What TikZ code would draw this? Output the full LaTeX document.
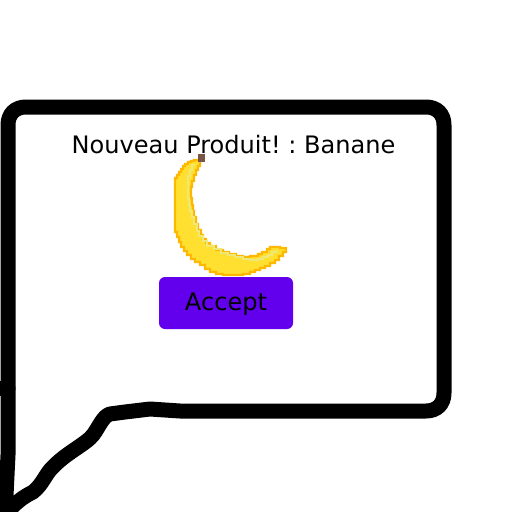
\documentclass[tikz,border=0pt]{standalone}
\usepackage{fontspec}
\setmainfont{DejaVu Sans}
\frenchspacing
\definecolor{btn}{HTML}{6200EE}
\definecolor{nanaedge}{HTML}{FFB800}
\definecolor{nanafill}{HTML}{FFE030}
\definecolor{nanapale}{HTML}{EEE878}
\definecolor{nanastem}{HTML}{795548}
\tikzset{
  inkline/.style={line width=15pt,line cap=round,line join=round,draw=black},
  acceptbtn/.style={fill=btn,rounded corners=6pt,minimum width=134pt,minimum height=52pt,inner sep=0pt,text=black},
  btnlabel/.style={font=\fontsize{24.1pt}{26pt}\selectfont,text=black,inner sep=0pt},
  titletext/.style={font=\fontsize{24.05pt}{26pt}\selectfont,text=black,inner sep=0pt}
}
\begin{document}
\begin{tikzpicture}[x=1pt,y=-1pt]
\useasboundingbox (0,0) rectangle (512,512);
\fill[white] (0,0) rectangle (512,512);
% bubble
\draw[inkline] (5,516) -- (8,455) -- (8,125) .. controls (8,114) and (15,107) .. (26,107) -- (426,107) .. controls (437,107) and (444,114) .. (444,125) -- (444,393) .. controls (444,404) and (437,411) .. (426,411) -- (180,411) -- (150,409) -- (125,412) -- (110,414) .. controls (103,416) and (99,427) .. (93,435) .. controls (86,444) and (66,453) .. (53,467) .. controls (46,473) and (43,484) .. (33,492) .. controls (23,497) and (16,502) .. (4,516);
\draw[line width=15pt,line cap=round] (1,388) -- (8,388);
% banana
\path[fill=nanafill,draw=nanaedge,line width=2.4pt,line join=miter] (198,160) \foreach \p in {(194,161),(191,162),(188,164),(185,166),(183,169),(181,172),(179,175),(177,178),(175,182),(175,186),(175,232),(177,237),(179,242),(181,247),(184,251),(187,255),(191,259),(195,262),(200,265),(205,269),(210,272),(216,274),(223,275),(243,274),(250,272),(255,270),(260,268),(265,266),(270,263),(275,260),(279,256),(283,252),(286,248),(280,247),(273,247),(270,249),(267,252),(262,254),(258,256),(250,257),(243,256),(236,254),(229,252),(223,250),(216,246),(210,243),(206,239),(203,235),(201,230),(198,224),(196,217),(194,211),(193,205),(192,198),(191,187),(192,181),(194,175),(196,170),(198,166),(200,162)} { -| \p } -- cycle;
\draw[nanapale,line width=2.6pt] (195,165) \foreach \p in {(192,170),(190,176),(188,182),(188,198),(189,205),(190,211),(192,217),(194,224),(197,231),(199,236),(203,241),(207,246),(214,249),(221,253),(228,255),(235,257),(243,259),(250,260),(258,259),(263,257),(268,255),(272,252),(276,250)} { -| \p };
\fill[nanastem] (198,154) rectangle (205,162);
% text and button
\node[titletext] (title) at (233.5,145) {Nouveau Produit! : Banane};
\node[acceptbtn] (accept) at (226,303) {};
\node[btnlabel] (acceptlabel) at (226,304.5) {Accept};
\end{tikzpicture}
\end{document}
